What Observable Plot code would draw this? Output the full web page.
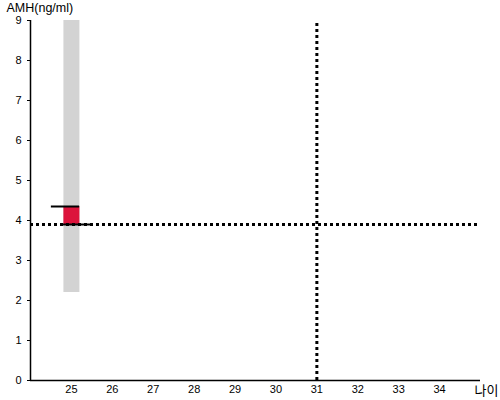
<!DOCTYPE html>
<html><head><meta charset="utf-8">
<script src="https://cdn.jsdelivr.net/npm/d3@7"></script>
<script src="https://cdn.jsdelivr.net/npm/@observablehq/plot@0.6"></script>
<style>body{margin:0;background:#fff}</style>
</head><body><div id="chart"></div>
<script>
const xDomain = [24, 35];
const yDomain = [0, 9];
const xTicks = [25, 26, 27, 28, 29, 30, 31, 32, 33, 34];
const yTicks = [0, 1, 2, 3, 4, 5, 6, 7, 8, 9];
const ages = [25];
const rangeLow = [2.2];
const rangeHigh = [9];
const valueLow = [3.9];
const valueHigh = [4.35];
const refAge = [31];
const refAMH = [3.9];
const yLabel = "AMH(ng/ml)";
const xLabel = "나이";

const rows = ages.map((a, i) => ({age: a, lo: rangeLow[i], hi: rangeHigh[i], vlo: valueLow[i], vhi: valueHigh[i]}));

const chart = Plot.plot({
  width: 500, height: 400,
  marginLeft: 30, marginRight: 20, marginTop: 20, marginBottom: 20,
  style: {fontFamily: "'Liberation Sans', Arial, sans-serif", fontSize: "11px", background: "#fff", overflow: "visible"},
  x: {domain: xDomain, ticks: xTicks, tickFormat: d => String(d), label: null},
  y: {domain: yDomain, ticks: yTicks, label: null},
  marks: [
    Plot.axisX({ticks: xTicks, tickSize: 0, tickPadding: 5, label: null, tickFormat: d => String(d), fontSize: 11}),
    Plot.axisY({ticks: yTicks, tickSize: 3, tickPadding: 6, label: null, fontSize: 11}),
    Plot.ruleX(rows, {x: "age", y1: "lo", y2: "hi", stroke: "#d3d3d3", strokeWidth: 16}),
    Plot.ruleX(rows, {x: "age", y1: "vlo", y2: "vhi", stroke: "#dc143c", strokeWidth: 16}),
    Plot.ruleY(rows, {y: "vhi", x1: d => d.age - 0.49, x2: d => d.age + 0.2, stroke: "#000", strokeWidth: 2}),
    Plot.ruleY(rows, {y: "vlo", x1: d => d.age - 0.2, x2: d => d.age + 0.49, stroke: "#000", strokeWidth: 2}),
    Plot.ruleX(refAge, {y1: yDomain[0], y2: yDomain[1], stroke: "#000", strokeWidth: 3, strokeDasharray: "3,3"}),
    Plot.ruleY(refAMH, {x1: xDomain[0], x2: xDomain[1], stroke: "#000", strokeWidth: 3, strokeDasharray: "3,3"}),
    Plot.ruleX([xDomain[0]], {stroke: "#000", strokeWidth: 1.5}),
    Plot.ruleY([yDomain[0]], {stroke: "#000", strokeWidth: 1.5}),
    Plot.text([yLabel], {frameAnchor: "top-left", dx: -24, dy: -17, text: d => d, fontSize: 12.5, textAnchor: "start"}),
    Plot.text([xLabel], {frameAnchor: "bottom-right", dx: 18, dy: 14, text: d => d, fontSize: 13, textAnchor: "end", fontFamily: "'Noto Sans CJK KR', sans-serif"})
  ]
});
document.getElementById("chart").appendChild(chart);
</script>
</body></html>
